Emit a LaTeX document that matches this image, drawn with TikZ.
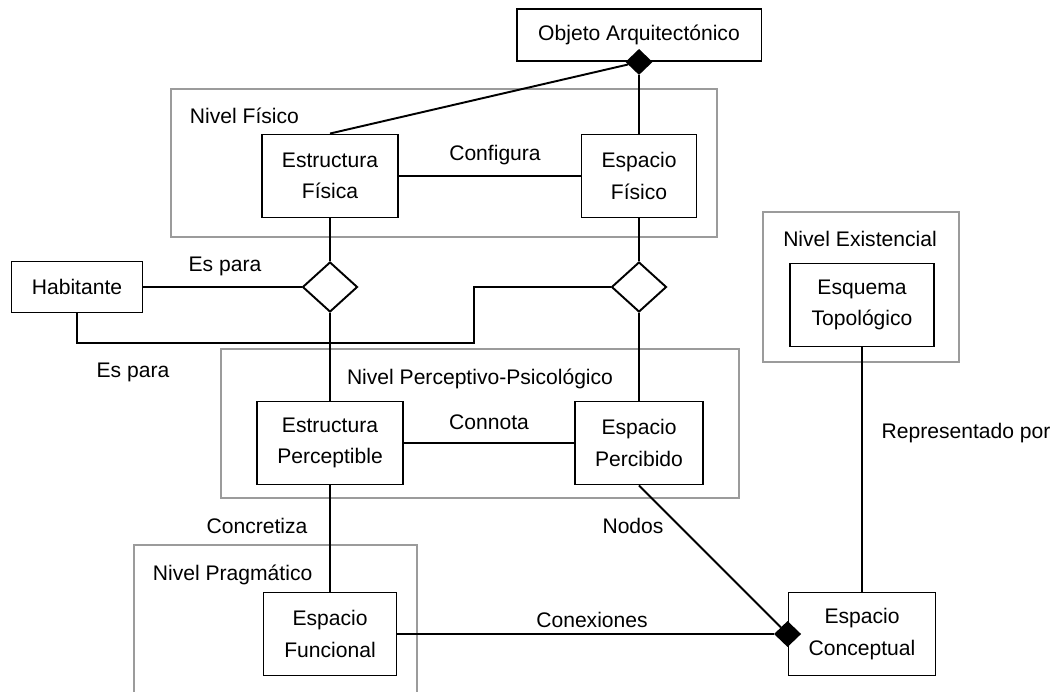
\documentclass[tikz,border=0pt]{standalone}
\usepackage{fontspec}
\setmainfont{Liberation Sans}
\usepackage{tikz}
\usetikzlibrary{shapes.geometric}
\definecolor{levelgray}{RGB}{155,155,155}

\begin{document}
\begin{tikzpicture}[x=0.02cm,y=-0.02cm,line width=1.1pt,
    font=\fontsize{12}{18}\selectfont,
    entity/.style={draw,align=center,inner sep=0pt,minimum height=1.66cm},
    rel/.style={draw,diamond,inner sep=0pt,minimum width=1.1cm,minimum height=1cm},
    agg/.style={draw,fill,diamond,inner sep=0pt,minimum width=0.5cm,minimum height=0.48cm},
    lbl/.style={inner sep=0pt,anchor=base},
    level/.style={draw=levelgray}]
  \useasboundingbox (0,0) rectangle (1060,692);
  % niveles
  \draw[level] (171,89) rectangle (717,237);
  \draw[level] (221,349) rectangle (739,498);
  \draw[level] (134,692) |- (417,545) -- (417,692);
  \draw[level] (763,212) rectangle (959,362);
  \node[lbl,anchor=base west] (nfisico) at (189,124) {Nivel Físico};
  \node[lbl] (nperc) at (480,384) {Nivel Perceptivo-Psicológico};
  \node[lbl,anchor=base west] (nprag) at (152,580) {Nivel Pragmático};
  \node[lbl] (nexist) at (860,247) {Nivel Existencial};
  % entidades
  \node[entity,minimum width=4.9cm,minimum height=1.04cm] (objeto) at (639,35) {Objeto Arquitectónico};
  \node[entity,minimum width=2.72cm] (estfis) at (330,176) {Estructura\\Física};
  \node[entity,minimum width=2.3cm] (espfis) at (639,176) {Espacio\\Físico};
  \node[entity,minimum width=2.62cm,minimum height=1.02cm] (habitante) at (77,287) {Habitante};
  \node[rel] (paraest) at (330,287) {};
  \node[rel] (paraesp) at (639,287) {};
  \node[entity,minimum width=2.92cm] (estper) at (330,443) {Estructura\\Perceptible};
  \node[entity,minimum width=2.56cm] (espper) at (639,443) {Espacio\\Percibido};
  \node[entity,minimum width=2.66cm] (espfun) at (330,634) {Espacio\\Funcional};
  \node[entity,minimum width=2.94cm] (espcon) at (862,634) {Espacio\\Conceptual};
  \node[entity,minimum width=2.88cm] (esquema) at (862,305) {Esquema\\Topológico};
  \node[agg] (aggobj) at (objeto.south) {};
  \node[agg] (aggcon) at (espcon.west) {};
  \coordinate (rodeo) at (474,343);
  % relaciones
  \draw (aggobj) -- (estfis.north);
  \draw (aggobj) -- (espfis);
  \draw (estfis) -- (espfis);
  \draw (estfis) -- (paraest);
  \draw (paraest) -- (estper);
  \draw (espfis) -- (paraesp);
  \draw (paraesp) -- (espper);
  \draw (habitante) -- (paraest);
  \draw (habitante.south) |- (rodeo) |- (paraesp.west);
  \draw (estper) -- (espper);
  \draw (estper) -- (espfun);
  \draw (espper.south) -- (aggcon);
  \draw (espfun) -- (aggcon);
  \draw (esquema) -- (espcon);
  % etiquetas
  \node[lbl] (configura) at (495,161) {Configura};
  \node[lbl] (espara) at (225,272) {Es para};
  \node[lbl] (esparab) at (133,377) {Es para};
  \node[lbl] (connota) at (489,429) {Connota};
  \node[lbl] (concretiza) at (257,533) {Concretiza};
  \node[lbl] (nodos) at (633,533) {Nodos};
  \node[lbl] (conexiones) at (592,627) {Conexiones};
  \node[lbl] (representado) at (966,438) {Representado por};
\end{tikzpicture}
\end{document}
